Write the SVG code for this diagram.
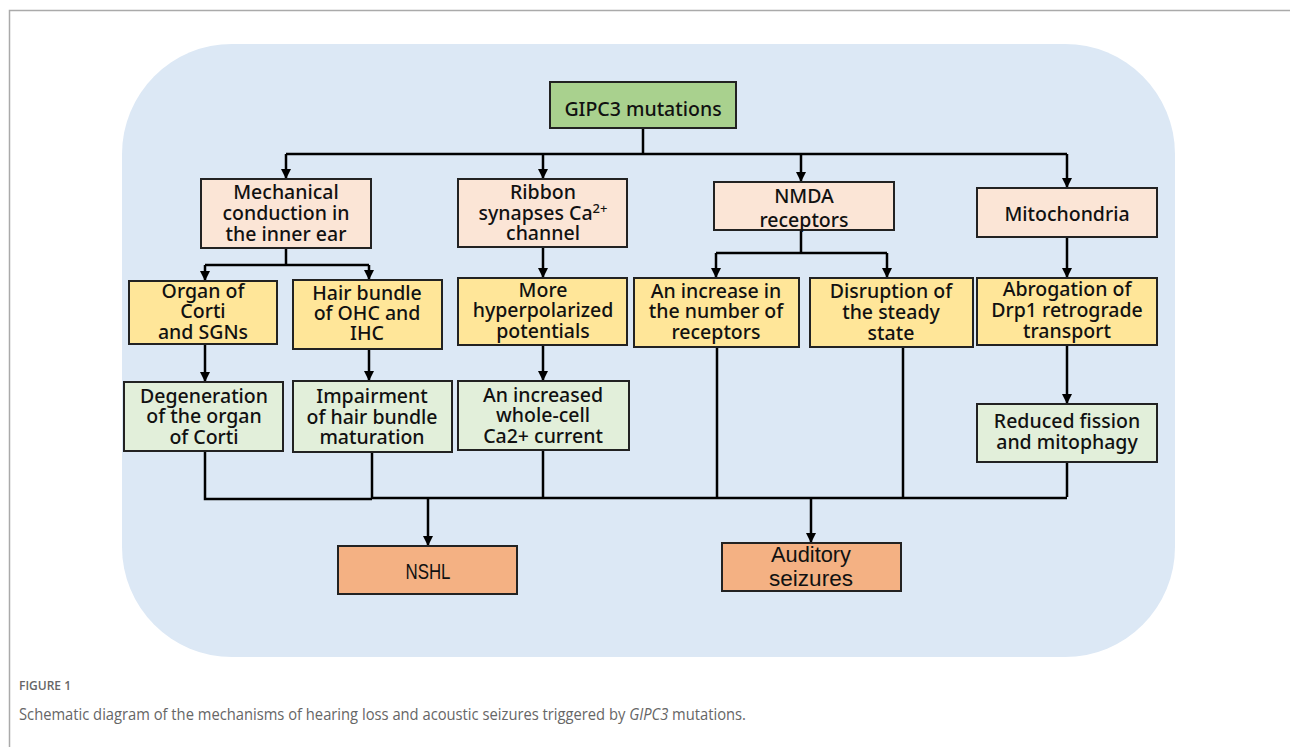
<svg xmlns="http://www.w3.org/2000/svg" width="1290" height="747" viewBox="0 0 1290 747">
<defs>
<marker id="ah" viewBox="0 0 10 10" refX="10" refY="5" markerWidth="10" markerHeight="10" markerUnits="userSpaceOnUse" orient="auto">
<path d="M0,0 L10,5 L0,10 z" fill="#000"/>
</marker>
<style>
.bx{stroke:#222;stroke-width:2}
.g{fill:#a9d18e}.p{fill:#fbe5d6}.y{fill:#ffe699}.lg{fill:#e2efda}.o{fill:#f4b183}
.t{font-family:"Noto Sans","Open Sans",sans-serif;font-size:19.5px;font-weight:500;fill:#111;text-anchor:middle}
.n{font-family:"Liberation Sans",sans-serif;font-size:22px;fill:#111;text-anchor:middle}
.c{fill:none;stroke:#000;stroke-width:2.5}
.a{fill:none;stroke:#000;stroke-width:2.5;marker-end:url(#ah)}
.cap{font-family:"Open Sans",sans-serif;fill:#666}
</style>
</defs>
<rect width="1290" height="747" fill="#fff"/>
<path d="M9.5,747 V10.5 H1290" fill="none" stroke="#aaa" stroke-width="1.5"/>
<rect x="122" y="44" width="1053" height="613" rx="110" ry="110" fill="#dce8f5"/>

<g id="connectors">
<path class="c" d="M643,128 V154 M286,154 H1067"/>
<path class="a" d="M286,154 V179"/>
<path class="a" d="M543,154 V179"/>
<path class="a" d="M801,154 V182"/>
<path class="a" d="M1067,154 V188"/>
<path class="c" d="M286,248 V265 M205,265 H369"/>
<path class="a" d="M205,265 V281"/>
<path class="a" d="M369,265 V280"/>
<path class="a" d="M543,247 V278"/>
<path class="c" d="M801,230 V253 M716,253 H887"/>
<path class="a" d="M716,253 V278"/>
<path class="a" d="M887,253 V278"/>
<path class="a" d="M1067,237 V278"/>
<path class="a" d="M205,344 V382"/>
<path class="a" d="M369,349 V381"/>
<path class="a" d="M543,345 V381"/>
<path class="a" d="M1067,345 V404"/>
<path class="c" d="M205,451 V499 H372 M372,452 V498 M543,450 V497 M717,347 V497 M903,347 V497 M1067,462 V497 M372,498 H1067"/>
<path class="a" d="M428,498 V546"/>
<path class="a" d="M811,497 V543"/>
</g>

<g id="gipc3"><rect class="bx g" x="550" y="82" width="186" height="46"/><text class="t" x="643" y="116">GIPC3 mutations</text></g>

<g id="mech"><rect class="bx p" x="201" y="179" width="170" height="69"/><text class="t" x="286" y="199">Mechanical</text><text class="t" x="286" y="220">conduction in</text><text class="t" x="286" y="241">the inner ear</text></g>
<g id="ribbon"><rect class="bx p" x="458" y="179" width="169" height="68"/><text class="t" x="543" y="199">Ribbon</text><text class="t" x="543" y="220">synapses Ca<tspan font-size="13" dy="-7">2+</tspan></text><text class="t" x="543" y="240">channel</text></g>
<g id="nmda"><rect class="bx p" x="714" y="182" width="180" height="48"/><text class="t" x="804" y="203">NMDA</text><text class="t" x="804" y="227">receptors</text></g>
<g id="mito"><rect class="bx p" x="977" y="188" width="180" height="49"/><text class="t" x="1067" y="221">Mitochondria</text></g>

<g id="organ"><rect class="bx y" x="129" y="281" width="148" height="63"/><text class="t" x="203" y="298">Organ of</text><text class="t" x="203" y="318">Corti</text><text class="t" x="203" y="339">and SGNs</text></g>
<g id="hair"><rect class="bx y" x="293" y="280" width="149" height="69"/><text class="t" x="367" y="300">Hair bundle</text><text class="t" x="367" y="320">of OHC and</text><text class="t" x="367" y="340">IHC</text></g>
<g id="hyper"><rect class="bx y" x="458" y="278" width="169" height="67"/><text class="t" x="543" y="297">More</text><text class="t" x="543" y="317">hyperpolarized</text><text class="t" x="543" y="338">potentials</text></g>
<g id="increase"><rect class="bx y" x="634" y="278" width="165" height="69"/><text class="t" x="716" y="298">An increase in</text><text class="t" x="716" y="318">the number of</text><text class="t" x="716" y="339">receptors</text></g>
<g id="disruption"><rect class="bx y" x="810" y="278" width="163" height="69"/><text class="t" x="891" y="298">Disruption of</text><text class="t" x="891" y="319">the steady</text><text class="t" x="891" y="340">state</text></g>
<g id="abrogation"><rect class="bx y" x="977" y="278" width="180" height="67"/><text class="t" x="1067" y="296">Abrogation of</text><text class="t" x="1067" y="317">Drp1 retrograde</text><text class="t" x="1067" y="338">transport</text></g>

<g id="degeneration"><rect class="bx lg" x="124" y="382" width="159" height="69"/><text class="t" x="204" y="403">Degeneration</text><text class="t" x="204" y="423">of the organ</text><text class="t" x="204" y="444">of Corti</text></g>
<g id="impairment"><rect class="bx lg" x="293" y="381" width="159" height="71"/><text class="t" x="372" y="403">Impairment</text><text class="t" x="372" y="424">of hair bundle</text><text class="t" x="372" y="444">maturation</text></g>
<g id="current"><rect class="bx lg" x="458" y="381" width="171" height="69"/><text class="t" x="543" y="402">An increased</text><text class="t" x="543" y="422">whole-cell</text><text class="t" x="543" y="443">Ca2+ current</text></g>
<g id="fission"><rect class="bx lg" x="977" y="404" width="180" height="58"/><text class="t" x="1067" y="428">Reduced fission</text><text class="t" x="1067" y="449">and mitophagy</text></g>

<g id="nshl"><rect class="bx o" x="338" y="546" width="179" height="48"/><text class="n" x="428" y="579" textLength="45" lengthAdjust="spacingAndGlyphs">NSHL</text></g>
<g id="seizures"><rect class="bx o" x="722" y="543" width="179" height="48"/><text class="n" x="811" y="562" textLength="80" lengthAdjust="spacingAndGlyphs">Auditory</text><text class="n" x="811" y="586" textLength="84" lengthAdjust="spacingAndGlyphs">seizures</text></g>

<text class="cap" x="19" y="690" font-size="12" font-weight="600">FIGURE 1</text>
<text class="cap" x="19" y="720" font-size="16" textLength="727" lengthAdjust="spacingAndGlyphs">Schematic diagram of the mechanisms of hearing loss and acoustic seizures triggered by <tspan font-style="italic">GIPC3</tspan> mutations.</text>
</svg>
